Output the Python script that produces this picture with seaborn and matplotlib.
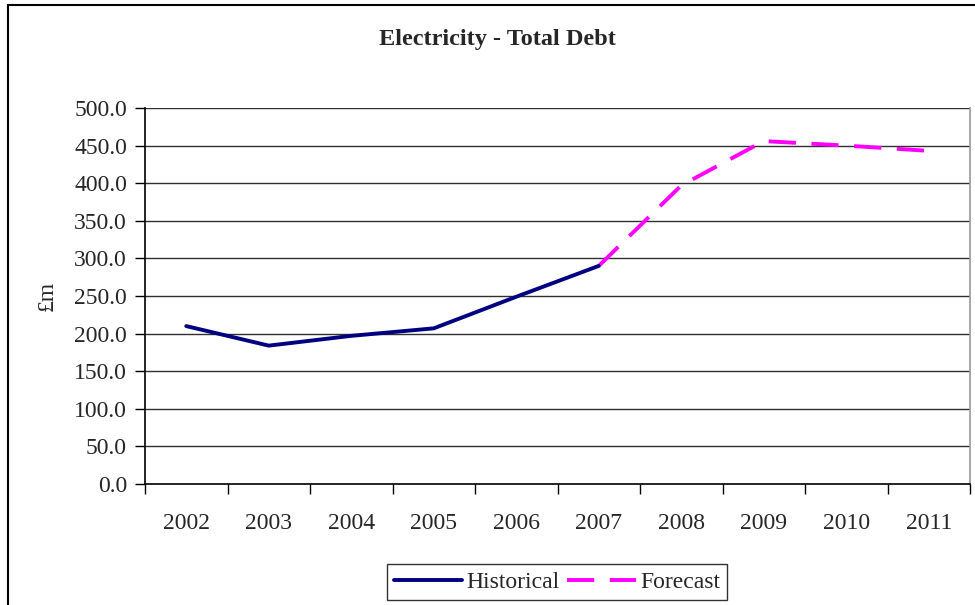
import matplotlib
matplotlib.use("Agg")
import matplotlib.pyplot as plt
import seaborn as sns
import pandas as pd
from matplotlib.lines import Line2D

years = ["2002", "2003", "2004", "2005", "2006", "2007", "2008", "2009", "2010", "2011"]
historical_years = ["2002", "2003", "2004", "2005", "2006", "2007"]
historical = [210, 184, 197, 207, 249, 290]
forecast_years = ["2007", "2008", "2009", "2010", "2011"]
forecast = [290, 397, 456, 450, 443]
yticks = [0, 50, 100, 150, 200, 250, 300, 350, 400, 450, 500]

sns.set_theme(style="white")
plt.rcParams['font.family'] = ['Liberation Serif', 'DejaVu Serif']

fig = plt.figure(figsize=(9.75, 6.05), dpi=100)
ax = fig.add_axes([145/975, 1-484/605, 825/975, 376/605])

pos = {y: i for i, y in enumerate(years)}
df_h = pd.DataFrame({"x": [pos[y] for y in historical_years], "v": historical})
df_f = pd.DataFrame({"x": [pos[y] for y in forecast_years], "v": forecast})

for yv in yticks[1:]:
    ax.axhline(yv, color="#303030", lw=1.0, zorder=1)

sns.lineplot(data=df_h, x="x", y="v", ax=ax, color="#000080", lw=2.8, zorder=3)
sns.lineplot(data=df_f, x="x", y="v", ax=ax, color="#FF00FF", lw=2.8, zorder=2,
             dashes=False, linestyle=(0, (7, 4)))

ax.set_xlim(-0.5, len(years) - 0.5)
ax.set_ylim(0, 500)
ax.set_yticks(yticks)
ax.set_yticklabels([f"{v:.1f}" for v in yticks], fontsize=17)
ax.set_xticks(range(len(years)))
ax.set_xticklabels(years, fontsize=17)
ax.set_xticks([i - 0.5 for i in range(len(years) + 1)], minor=True)
ax.tick_params(axis="x", which="major", length=0, pad=21)
ax.tick_params(axis="x", which="minor", length=7, width=1, color="black", direction="out", bottom=True)
ax.tick_params(axis="y", which="major", length=7, width=1, color="black", direction="out", left=True, pad=6)
ax.set_xlabel("")
ax.set_ylabel("£m", fontsize=17, labelpad=12)

for s in ["left", "bottom"]:
    ax.spines[s].set_color("black")
    ax.spines[s].set_linewidth(1.2)
ax.spines["top"].set_visible(False)
ax.spines["right"].set_color("#999999")
ax.spines["right"].set_linewidth(1.2)

fig.text(497/975, 1-40/605, "Electricity - Total Debt", ha="center", va="center",
         fontsize=17.5, fontweight="bold")

handles = [Line2D([0], [0], color="#000080", lw=2.8),
           Line2D([0], [0], color="#FF00FF", lw=2.8, linestyle=(0, (7, 4)))]
leg = fig.legend(handles, ["Historical", "Forecast"], loc="center",
                 bbox_to_anchor=(557/975, 1-582/605), ncol=2, fontsize=17,
                 frameon=True, fancybox=False, edgecolor="black",
                 handlelength=2.9, handletextpad=0.2, columnspacing=0.3,
                 borderpad=0.3, borderaxespad=0)
leg.get_frame().set_linewidth(1.0)

fig.add_artist(Line2D([8/975, 8/975], [0, 1-5/605], transform=fig.transFigure, color="black", lw=1.5))
fig.add_artist(Line2D([8/975, 1], [1-5/605, 1-5/605], transform=fig.transFigure, color="black", lw=1.5))

fig.savefig("out.png", dpi=100)
